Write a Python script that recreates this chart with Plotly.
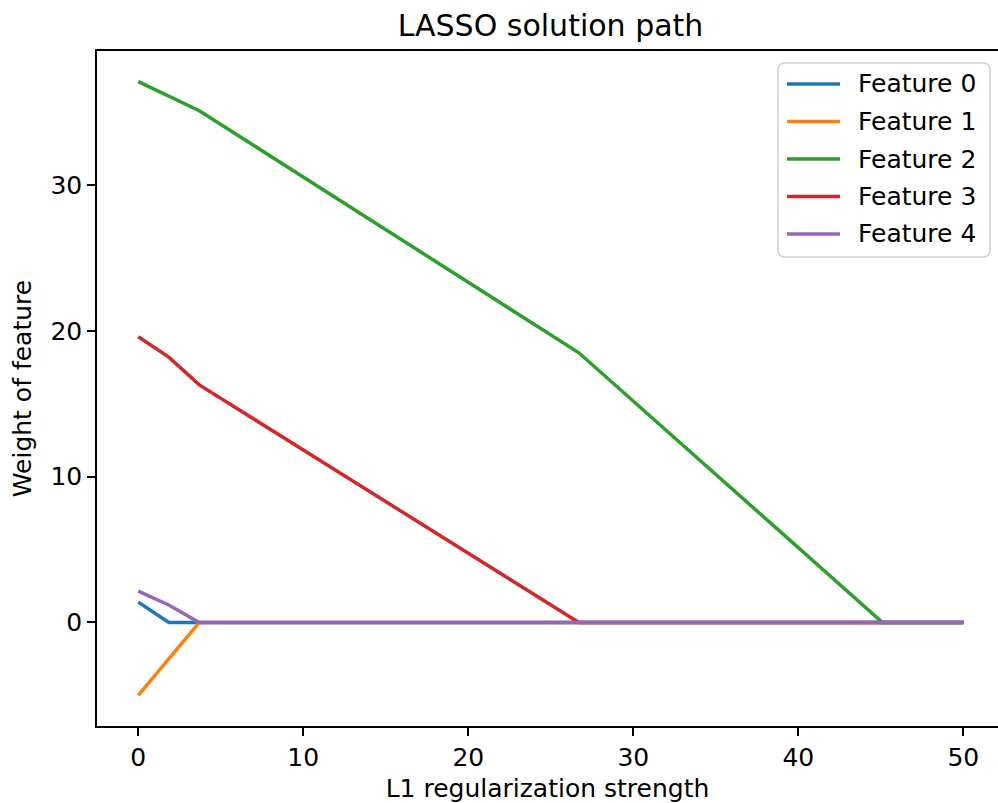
import plotly.graph_objects as go

# LASSO coefficient paths: breakpoints of each piecewise-linear path
# (regularization strength -> weight)
feature_names = ["Feature 0", "Feature 1", "Feature 2", "Feature 3", "Feature 4"]

alpha_f0 = [0, 1.85, 50]
weight_f0 = [1.4, 0.0, 0.0]

alpha_f1 = [0, 3.7, 50]
weight_f1 = [-5.0, 0.0, 0.0]

alpha_f2 = [0, 3.7, 26.7, 45.1, 50]
weight_f2 = [37.1, 35.1, 18.5, 0.0, 0.0]

alpha_f3 = [0, 1.85, 3.7, 26.7, 50]
weight_f3 = [19.6, 18.2, 16.3, 0.0, 0.0]

alpha_f4 = [0, 1.85, 3.7, 50]
weight_f4 = [2.15, 1.2, 0.0, 0.0]

x_ticks = [0, 10, 20, 30, 40, 50]
y_ticks = [0, 10, 20, 30]

colors = ["#1f77b4", "#ff7f0e", "#2ca02c", "#d62728", "#9467bd"]

paths = [
    (alpha_f0, weight_f0),
    (alpha_f1, weight_f1),
    (alpha_f2, weight_f2),
    (alpha_f3, weight_f3),
    (alpha_f4, weight_f4),
]

W, H = 998, 803
M_L, M_R, M_T, M_B = 97, 0, 51, 77
PW, PH = W - M_L - M_R, H - M_T - M_B
font_family = "DejaVu Sans"
FS = 25


def px_x(px):
    """Pixel column -> paper x."""
    return (px - M_L) / PW


def px_y(py):
    """Pixel row -> paper y."""
    return (H - M_B - py) / PH


fig = go.Figure()
for name, (xs, ys), c in zip(feature_names, paths, colors):
    fig.add_trace(go.Scatter(
        x=xs, y=ys, mode="lines", name=name,
        line=dict(color=c, width=3.5), showlegend=False,
    ))

# Legend box with rounded corners
bx0, bx1, by0, by1, r = 778, 990, 63, 257, 7
box_path = (
    f"M {px_x(bx0 + r)} {px_y(by0)} L {px_x(bx1 - r)} {px_y(by0)} "
    f"Q {px_x(bx1)} {px_y(by0)} {px_x(bx1)} {px_y(by0 + r)} "
    f"L {px_x(bx1)} {px_y(by1 - r)} "
    f"Q {px_x(bx1)} {px_y(by1)} {px_x(bx1 - r)} {px_y(by1)} "
    f"L {px_x(bx0 + r)} {px_y(by1)} "
    f"Q {px_x(bx0)} {px_y(by1)} {px_x(bx0)} {px_y(by1 - r)} "
    f"L {px_x(bx0)} {px_y(by0 + r)} "
    f"Q {px_x(bx0)} {px_y(by0)} {px_x(bx0 + r)} {px_y(by0)} Z"
)
fig.add_shape(type="path", path=box_path, xref="paper", yref="paper",
              fillcolor="rgba(255,255,255,0.8)",
              line=dict(color="#d0d0d0", width=1.5), layer="above")

row0, row_step = 84, 37.5
for i, (name, c) in enumerate(zip(feature_names, colors)):
    yc = row0 + i * row_step
    fig.add_shape(type="line", xref="paper", yref="paper",
                  x0=px_x(787), x1=px_x(840), y0=px_y(yc), y1=px_y(yc),
                  line=dict(color=c, width=3.5), layer="above")
    fig.add_annotation(text=name, xref="paper", yref="paper",
                       x=px_x(856), y=px_y(yc), xanchor="left", yanchor="middle",
                       showarrow=False,
                       font=dict(family=font_family, size=FS, color="black"))

axis_common = dict(
    showgrid=False, zeroline=False, showline=True,
    linecolor="black", linewidth=1.5,
    ticks="outside", ticklen=8, tickwidth=1.5, tickcolor="black",
    tickfont=dict(family=font_family, size=FS, color="black"),
)

fig.update_layout(
    width=W, height=H,
    margin=dict(l=M_L, r=M_R, t=M_T, b=M_B),
    paper_bgcolor="white", plot_bgcolor="white",
    font=dict(family=font_family, color="black"),
    title=dict(text="LASSO solution path", x=(97 + 1004) / 2 / W, xanchor="center",
               y=1 - 25 / H, yanchor="middle",
               font=dict(family=font_family, size=30, color="black")),
    xaxis=dict(range=[-2.5, 52.1], tickvals=x_ticks, mirror=True,
               title=dict(text="L1 regularization strength", standoff=10,
                          font=dict(family=font_family, size=FS, color="black")),
               **axis_common),
    yaxis=dict(range=[-7.1, 39.2], tickvals=y_ticks, mirror=False,
               title=dict(text="Weight of feature", standoff=12,
                          font=dict(family=font_family, size=FS, color="black")),
               **axis_common),
    showlegend=False,
)

fig.write_html("out.html")
